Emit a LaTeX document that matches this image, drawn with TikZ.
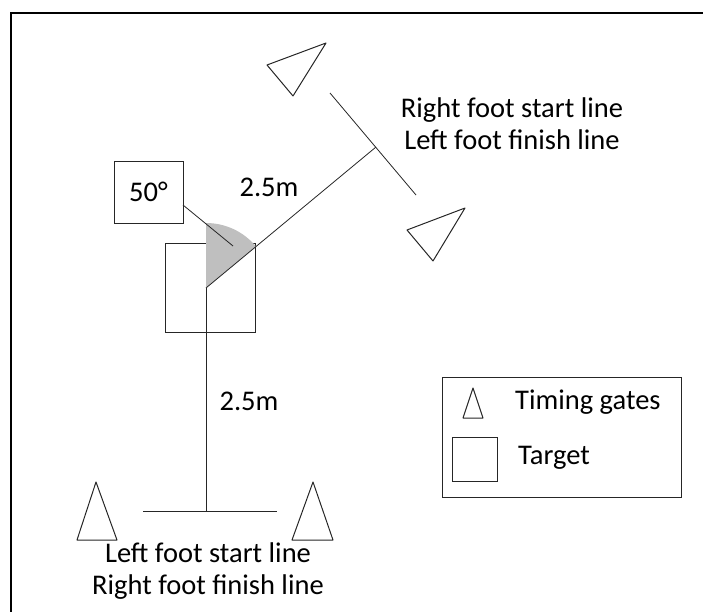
\documentclass[tikz,border=0pt]{standalone}
\usepackage{fontspec}
\setmainfont{Carlito}
\begin{document}
\begin{tikzpicture}[x=1pt,y=-1pt,
    ln/.style={draw=black!85,line width=0.8pt},
    gate/.style={draw=black!85,line width=1pt,line join=round},
    txt/.style={font=\fontsize{28.5}{32}\selectfont,inner sep=0pt,align=center}]
  \useasboundingbox (0,0) rectangle (703,612);
  % frame
  \draw[line width=2.2pt] (11,612) -- (11,13) -- (703,13);
  % points
  \coordinate (origin) at (206,288);
  \coordinate (rjoin) at (376,147);
  \coordinate (ljoin) at (206,511);
  % target and angle
  \draw[ln] (165,243) rectangle (255,332);
  \fill[gray!50] (origin) -- ++(0,-65) arc[start angle=-90,end angle=-39.7,radius=65] -- cycle;
  \draw[ln] (origin) -- (ljoin);
  \draw[ln] (origin) -- (rjoin);
  \draw[ln] (143,511) -- (277,511);
  \draw[ln] (330,93) -- (416,195);
  % timing gates
  \draw[gate] (267,65) -- (326,43) -- (293,96) -- cycle;
  \draw[gate] (407,230) -- (465,208) -- (433,261) -- cycle;
  \draw[gate] (96,482) -- (77,540) -- (117,540) -- cycle;
  \draw[gate] (313,482) -- (292,540) -- (333,540) -- cycle;
  % angle label
  \node[ln,minimum width=69pt,minimum height=62pt,inner sep=0pt] (ang) at (148.5,192) {};
  \node[txt] at (ang.center) {50°};
  \draw[ln] (183,205) -- (233,246);
  % texts
  \node[txt] (dist1) at (269,187) {2.5m};
  \node[txt] (dist2) at (249,401) {2.5m};
  \node[txt] (rline) at (512,124) {Right foot start line\\Left foot finish line};
  \node[txt] (lline) at (208,571) {Left foot start line\\Right foot finish line};
  % legend
  \draw[ln] (442,377) rectangle (681,497);
  \draw[gate] (473,388) -- (463,418) -- (483,418) -- cycle;
  \draw[ln] (452,437) rectangle (497,481);
  \node[txt,anchor=west] (lgate) at (515,402) {Timing gates};
  \node[txt,anchor=west] (ltarget) at (518,458) {Target};
\end{tikzpicture}
\end{document}
